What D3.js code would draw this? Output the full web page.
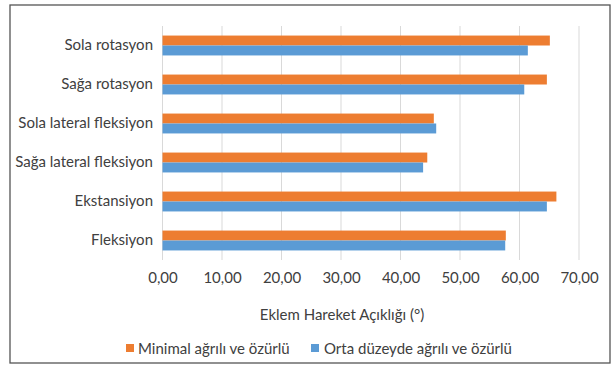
<!DOCTYPE html>
<html>
<head>
<meta charset="utf-8">
<script src="https://cdn.jsdelivr.net/npm/d3@7"></script>
<style>
  html, body { margin: 0; padding: 0; background: #fff; }
  svg { display: block; }
  text { font-family: Lato, "Open Sans", sans-serif; fill: #404040; }
</style>
</head>
<body>
<svg id="chart" width="613" height="366"></svg>
<script>
const categories = ["Sola rotasyon", "Sağa rotasyon", "Sola lateral fleksiyon", "Sağa lateral fleksiyon", "Ekstansiyon", "Fleksiyon"];
const minimalValues = [65.1, 64.6, 45.6, 44.5, 66.2, 57.7];
const ortaValues = [61.4, 60.8, 46.0, 43.8, 64.6, 57.6];
const seriesNames = ["Minimal ağrılı ve özürlü", "Orta düzeyde ağrılı ve özürlü"];
const seriesColors = ["#ED7D31", "#5B9BD5"];
const xTicks = [0, 10, 20, 30, 40, 50, 60, 70];
const axisTitle = "Eklem Hareket Açıklığı (°)";

const FS = 15;
const svg = d3.select("#chart");

// frame
svg.append("rect").attr("x", 10).attr("y", 5).attr("width", 600).attr("height", 358)
  .attr("fill", "#fff").attr("stroke", "#555").attr("stroke-width", 1.3);

const x = d3.scaleLinear().domain([0, 70]).range([162.5, 579]);
const y = d3.scaleBand().domain(categories).range([26, 260]).paddingInner(0.49).paddingOuter(0.245);
const sub = d3.scaleBand().domain(seriesNames).range([0, y.bandwidth()]);

// gridlines
svg.append("g").selectAll("line").data(xTicks).join("line")
  .attr("x1", d => x(d)).attr("x2", d => x(d))
  .attr("y1", 26).attr("y2", 260)
  .attr("stroke", "#d9d9d9").attr("stroke-width", 1);

// bars
const seriesData = [minimalValues, ortaValues];
seriesData.forEach((vals, si) => {
  svg.append("g").selectAll("rect").data(categories).join("rect")
    .attr("x", x(0))
    .attr("y", (d) => y(d) + sub(seriesNames[si]))
    .attr("width", (d, i) => x(vals[i]) - x(0))
    .attr("height", sub.bandwidth())
    .attr("fill", seriesColors[si]);
});

// x axis
const fmt = d3.format(".2f");
const xAxis = d3.axisBottom(x).tickValues(xTicks).tickSize(0).tickPadding(0)
  .tickFormat(d => fmt(d).replace(".", ","));
const gx = svg.append("g").attr("transform", "translate(0,272)").call(xAxis);
gx.select(".domain").remove();
gx.selectAll("text").attr("font-size", FS).attr("dy", "0.71em").style("font-family", "Lato, sans-serif").attr("fill", "#404040");

// y axis labels
const yAxis = d3.axisLeft(y).tickSize(0).tickPadding(0);
const gy = svg.append("g").attr("transform", "translate(153,0)").call(yAxis);
gy.select(".domain").remove();
gy.selectAll("text").attr("font-size", FS).style("font-family", "Lato, sans-serif").attr("fill", "#404040");

// axis title
svg.append("text").attr("x", 342).attr("y", 320).attr("text-anchor", "middle")
  .attr("font-size", FS).text(axisTitle);

// legend
const legendItems = [
  { name: seriesNames[0], color: seriesColors[0], sx: 126, tx: 138 },
  { name: seriesNames[1], color: seriesColors[1], sx: 311, tx: 324 }
];
const lg = svg.append("g");
legendItems.forEach(it => {
  lg.append("rect").attr("x", it.sx).attr("y", 344).attr("width", 8).attr("height", 8).attr("fill", it.color);
  lg.append("text").attr("x", it.tx).attr("y", 354).attr("font-size", FS).text(it.name);
});
</script>
</body>
</html>
